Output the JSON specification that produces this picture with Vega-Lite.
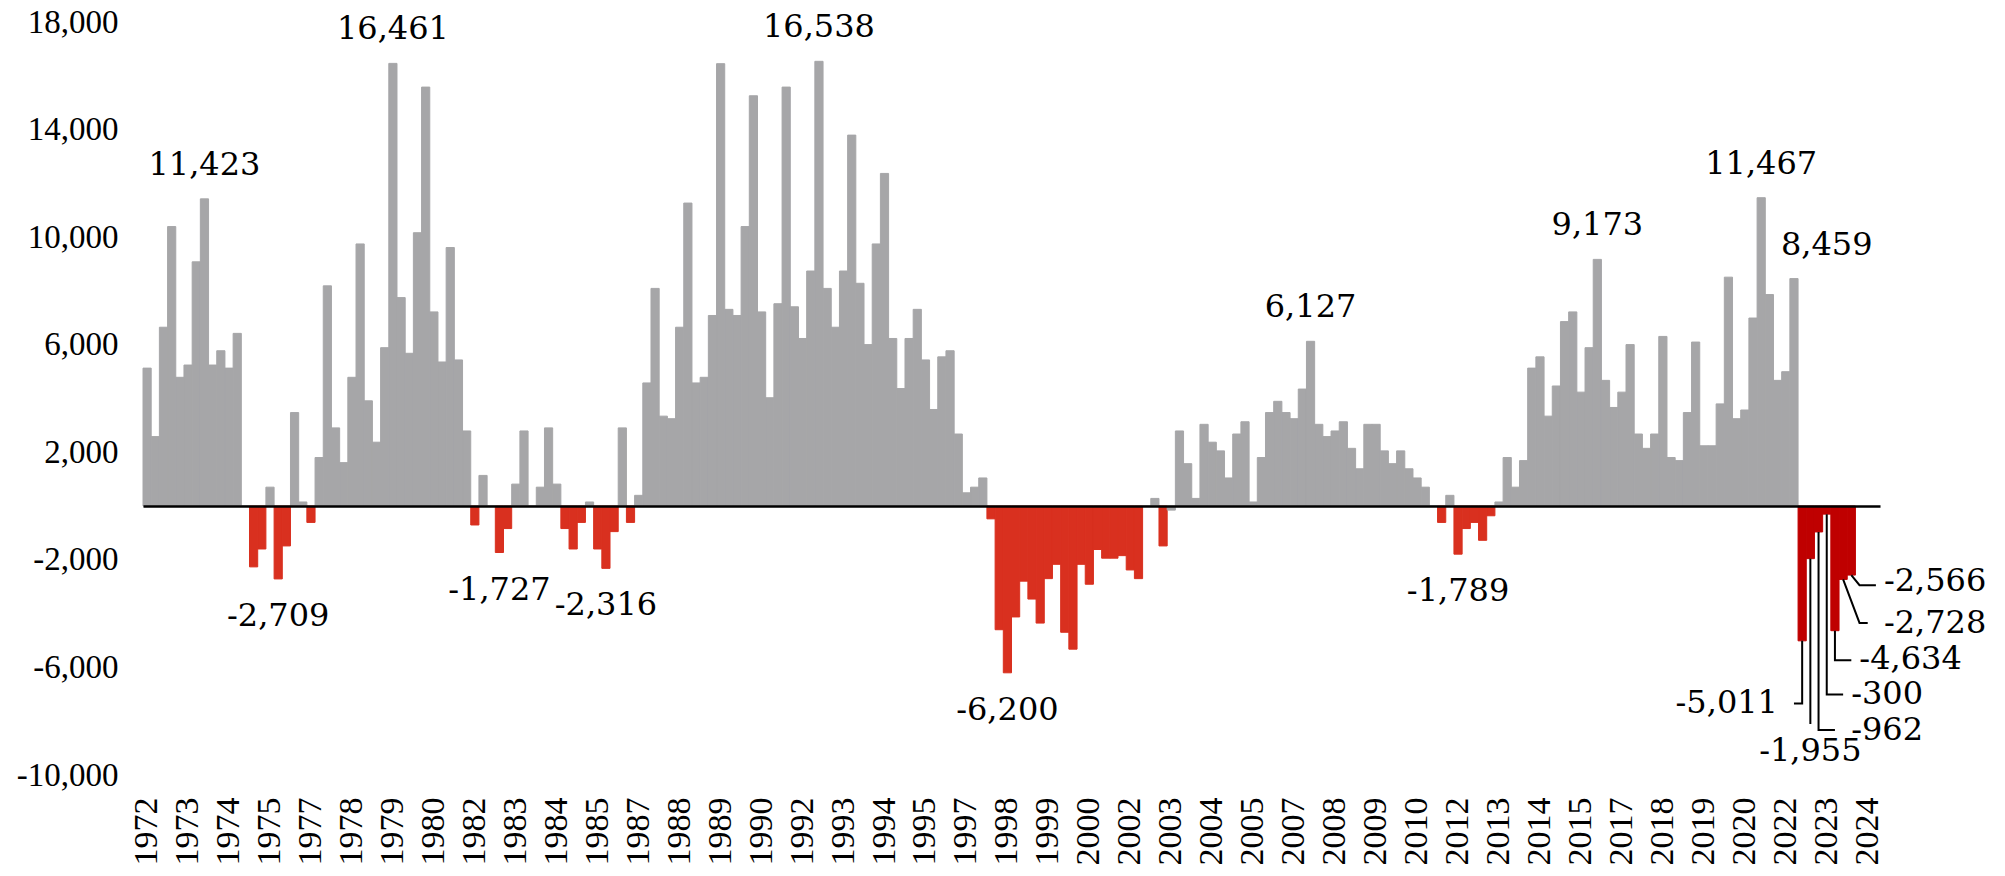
{
  "$schema": "https://vega.github.io/schema/vega-lite/v6.json",
  "autosize": {"type": "none"},
  "padding": {"left": 143, "top": 22, "right": 125, "bottom": 101},
  "width": 1737,
  "height": 753,
  "background": "#ffffff",
  "config": {"view": {"stroke": null}},
  "datasets": {
    "bars": [
      {"q":"1972Q1","v":5130},{"q":"1972Q2","v":2584},{"q":"1972Q3","v":6650},{"q":"1972Q4","v":10393},
      {"q":"1973Q1","v":4788},{"q":"1973Q2","v":5244},{"q":"1973Q3","v":9082},{"q":"1973Q4","v":11423},
      {"q":"1974Q1","v":5244},{"q":"1974Q2","v":5776},{"q":"1974Q3","v":5130},{"q":"1974Q4","v":6422},
      {"q":"1975Q1","v":0},{"q":"1975Q2","v":-2261},{"q":"1975Q3","v":-1596},{"q":"1975Q4","v":703},
      {"q":"1976Q1","v":-2709},{"q":"1976Q2","v":-1482},{"q":"1976Q3","v":3477},{"q":"1976Q4","v":152},
      {"q":"1977Q1","v":-608},{"q":"1977Q2","v":1805},{"q":"1977Q3","v":8189},{"q":"1977Q4","v":2907},
      {"q":"1978Q1","v":1615},{"q":"1978Q2","v":4788},{"q":"1978Q3","v":9747},{"q":"1978Q4","v":3914},
      {"q":"1979Q1","v":2375},{"q":"1979Q2","v":5890},{"q":"1979Q3","v":16461},{"q":"1979Q4","v":7752},
      {"q":"1980Q1","v":5681},{"q":"1980Q2","v":10165},{"q":"1980Q3","v":15580},{"q":"1980Q4","v":7220},
      {"q":"1981Q1","v":5358},{"q":"1981Q2","v":9614},{"q":"1981Q3","v":5434},{"q":"1981Q4","v":2793},
      {"q":"1982Q1","v":-703},{"q":"1982Q2","v":1140},{"q":"1982Q3","v":0},{"q":"1982Q4","v":-1727},
      {"q":"1983Q1","v":-836},{"q":"1983Q2","v":817},{"q":"1983Q3","v":2793},{"q":"1983Q4","v":0},
      {"q":"1984Q1","v":703},{"q":"1984Q2","v":2907},{"q":"1984Q3","v":817},{"q":"1984Q4","v":-836},
      {"q":"1985Q1","v":-1596},{"q":"1985Q2","v":-608},{"q":"1985Q3","v":152},{"q":"1985Q4","v":-1596},
      {"q":"1986Q1","v":-2316},{"q":"1986Q2","v":-950},{"q":"1986Q3","v":2907},{"q":"1986Q4","v":-608},
      {"q":"1987Q1","v":399},{"q":"1987Q2","v":4579},{"q":"1987Q3","v":8094},{"q":"1987Q4","v":3344},
      {"q":"1988Q1","v":3249},{"q":"1988Q2","v":6650},{"q":"1988Q3","v":11267},{"q":"1988Q4","v":4579},
      {"q":"1989Q1","v":4788},{"q":"1989Q2","v":7087},{"q":"1989Q3","v":16450},{"q":"1989Q4","v":7315},
      {"q":"1990Q1","v":7087},{"q":"1990Q2","v":10393},{"q":"1990Q3","v":15257},{"q":"1990Q4","v":7220},
      {"q":"1991Q1","v":4028},{"q":"1991Q2","v":7524},{"q":"1991Q3","v":15580},{"q":"1991Q4","v":7410},
      {"q":"1992Q1","v":6232},{"q":"1992Q2","v":8740},{"q":"1992Q3","v":16538},{"q":"1992Q4","v":8094},
      {"q":"1993Q1","v":6650},{"q":"1993Q2","v":8740},{"q":"1993Q3","v":13794},{"q":"1993Q4","v":8284},
      {"q":"1994Q1","v":6004},{"q":"1994Q2","v":9747},{"q":"1994Q3","v":12369},{"q":"1994Q4","v":6232},
      {"q":"1995Q1","v":4370},{"q":"1995Q2","v":6232},{"q":"1995Q3","v":7315},{"q":"1995Q4","v":5434},
      {"q":"1996Q1","v":3591},{"q":"1996Q2","v":5548},{"q":"1996Q3","v":5776},{"q":"1996Q4","v":2679},
      {"q":"1997Q1","v":494},{"q":"1997Q2","v":703},{"q":"1997Q3","v":1045},{"q":"1997Q4","v":-475},
      {"q":"1998Q1","v":-4598},{"q":"1998Q2","v":-6200},{"q":"1998Q3","v":-4123},{"q":"1998Q4","v":-2793},
      {"q":"1999Q1","v":-3458},{"q":"1999Q2","v":-4351},{"q":"1999Q3","v":-2698},{"q":"1999Q4","v":-2166},
      {"q":"2000Q1","v":-4693},{"q":"2000Q2","v":-5320},{"q":"2000Q3","v":-2166},{"q":"2000Q4","v":-2907},
      {"q":"2001Q1","v":-1615},{"q":"2001Q2","v":-1938},{"q":"2001Q3","v":-1938},{"q":"2001Q4","v":-1843},
      {"q":"2002Q1","v":-2375},{"q":"2002Q2","v":-2698},{"q":"2002Q3","v":0},{"q":"2002Q4","v":285},
      {"q":"2003Q1","v":-1482},{"q":"2003Q2","v":-150},{"q":"2003Q3","v":2793},{"q":"2003Q4","v":1577},
      {"q":"2004Q1","v":285},{"q":"2004Q2","v":3040},{"q":"2004Q3","v":2375},{"q":"2004Q4","v":2052},
      {"q":"2005Q1","v":1045},{"q":"2005Q2","v":2679},{"q":"2005Q3","v":3135},{"q":"2005Q4","v":152},
      {"q":"2006Q1","v":1805},{"q":"2006Q2","v":3477},{"q":"2006Q3","v":3895},{"q":"2006Q4","v":3477},
      {"q":"2007Q1","v":3249},{"q":"2007Q2","v":4351},{"q":"2007Q3","v":6127},{"q":"2007Q4","v":3040},
      {"q":"2008Q1","v":2584},{"q":"2008Q2","v":2793},{"q":"2008Q3","v":3135},{"q":"2008Q4","v":2147},
      {"q":"2009Q1","v":1387},{"q":"2009Q2","v":3040},{"q":"2009Q3","v":3040},{"q":"2009Q4","v":2052},
      {"q":"2010Q1","v":1577},{"q":"2010Q2","v":2052},{"q":"2010Q3","v":1387},{"q":"2010Q4","v":1045},
      {"q":"2011Q1","v":703},{"q":"2011Q2","v":0},{"q":"2011Q3","v":-608},{"q":"2011Q4","v":399},
      {"q":"2012Q1","v":-1789},{"q":"2012Q2","v":-836},{"q":"2012Q3","v":-608},{"q":"2012Q4","v":-1273},
      {"q":"2013Q1","v":-361},{"q":"2013Q2","v":152},{"q":"2013Q3","v":1805},{"q":"2013Q4","v":703},
      {"q":"2014Q1","v":1691},{"q":"2014Q2","v":5130},{"q":"2014Q3","v":5548},{"q":"2014Q4","v":3344},
      {"q":"2015Q1","v":4465},{"q":"2015Q2","v":6859},{"q":"2015Q3","v":7220},{"q":"2015Q4","v":4237},
      {"q":"2016Q1","v":5890},{"q":"2016Q2","v":9173},{"q":"2016Q3","v":4674},{"q":"2016Q4","v":3667},
      {"q":"2017Q1","v":4237},{"q":"2017Q2","v":6004},{"q":"2017Q3","v":2679},{"q":"2017Q4","v":2147},
      {"q":"2018Q1","v":2679},{"q":"2018Q2","v":6308},{"q":"2018Q3","v":1805},{"q":"2018Q4","v":1691},
      {"q":"2019Q1","v":3477},{"q":"2019Q2","v":6099},{"q":"2019Q3","v":2242},{"q":"2019Q4","v":2242},
      {"q":"2020Q1","v":3800},{"q":"2020Q2","v":8512},{"q":"2020Q3","v":3249},{"q":"2020Q4","v":3572},
      {"q":"2021Q1","v":6992},{"q":"2021Q2","v":11467},{"q":"2021Q3","v":7866},{"q":"2021Q4","v":4674},
      {"q":"2022Q1","v":4997},{"q":"2022Q2","v":8459},{"q":"2022Q3","v":-5011},{"q":"2022Q4","v":-1955},
      {"q":"2023Q1","v":-962},{"q":"2023Q2","v":-300},{"q":"2023Q3","v":-4634},{"q":"2023Q4","v":-2728},
      {"q":"2024Q1","v":-2566}
    ],
    "labels": [
      {"t":"11,423","q":"1973Q4","v":11423},
      {"t":"16,461","q":"1979Q3","v":16461},
      {"t":"16,538","q":"1992Q3","v":16538},
      {"t":"6,127","q":"2007Q3","v":6127},
      {"t":"9,173","q":"2016Q2","v":9173},
      {"t":"11,467","q":"2021Q2","v":11467},
      {"t":"8,459","q":"2023Q2","v":8459},
      {"t":"-2,709","q":"1976Q1","v":-2709},
      {"t":"-1,727","q":"1982Q4","v":-1727},
      {"t":"-2,316","q":"1986Q1","v":-2316},
      {"t":"-6,200","q":"1998Q2","v":-6200},
      {"t":"-1,789","q":"2012Q1","v":-1789}
    ],
    "callouts": [
      {"t":"-2,566","q":"2024Q4","v":-2780,"side":"r"},
      {"t":"-2,728","q":"2024Q4","v":-4330,"side":"r"},
      {"t":"-4,634","q":"2024Q1","v":-5700,"side":"r"},
      {"t":"-300","q":"2023Q4","v":-6990,"side":"r"},
      {"t":"-962","q":"2023Q4","v":-8310,"side":"r"},
      {"t":"-1,955","q":"2022Q4","v":-9090,"side":"c"},
      {"t":"-5,011","q":"2022Q2","v":-7320,"side":"l"}
    ],
    "leaders": [
      {"id":"a","o":1,"q":"2024Q1","v":-2566},{"id":"a","o":2,"q":"2024Q2","v":-2940},{"id":"a","o":3,"q":"2024Q4","v":-2940},
      {"id":"b","o":1,"q":"2023Q4","v":-2728},{"id":"b","o":2,"q":"2024Q2","v":-4347},{"id":"b","o":3,"q":"2024Q3","v":-4347},
      {"id":"c","o":1,"q":"2023Q3","v":-4634},{"id":"c","o":2,"q":"2023Q3","v":-5731},{"id":"c","o":3,"q":"2024Q1","v":-5731},
      {"id":"d","o":1,"q":"2023Q2","v":-300},{"id":"d","o":2,"q":"2023Q2","v":-7003},{"id":"d","o":3,"q":"2023Q4","v":-7003},
      {"id":"e","o":1,"q":"2023Q1","v":-962},{"id":"e","o":2,"q":"2023Q1","v":-8330},{"id":"e","o":3,"q":"2023Q3","v":-8330},
      {"id":"f","o":1,"q":"2022Q4","v":-1955},{"id":"f","o":2,"q":"2022Q4","v":-8103},
      {"id":"g","o":1,"q":"2022Q3","v":-5011},{"id":"g","o":2,"q":"2022Q3","v":-7342},{"id":"g","o":3,"q":"2022Q2","v":-7342}
    ]
  },
  "encoding": {
    "x": {
      "field": "q",
      "type": "ordinal",
      "scale": {
        "paddingInner": 0,
        "paddingOuter": 0,
        "domain": ["1972Q1","1972Q2","1972Q3","1972Q4","1973Q1","1973Q2","1973Q3","1973Q4","1974Q1","1974Q2","1974Q3","1974Q4","1975Q1","1975Q2","1975Q3","1975Q4","1976Q1","1976Q2","1976Q3","1976Q4","1977Q1","1977Q2","1977Q3","1977Q4","1978Q1","1978Q2","1978Q3","1978Q4","1979Q1","1979Q2","1979Q3","1979Q4","1980Q1","1980Q2","1980Q3","1980Q4","1981Q1","1981Q2","1981Q3","1981Q4","1982Q1","1982Q2","1982Q3","1982Q4","1983Q1","1983Q2","1983Q3","1983Q4","1984Q1","1984Q2","1984Q3","1984Q4","1985Q1","1985Q2","1985Q3","1985Q4","1986Q1","1986Q2","1986Q3","1986Q4","1987Q1","1987Q2","1987Q3","1987Q4","1988Q1","1988Q2","1988Q3","1988Q4","1989Q1","1989Q2","1989Q3","1989Q4","1990Q1","1990Q2","1990Q3","1990Q4","1991Q1","1991Q2","1991Q3","1991Q4","1992Q1","1992Q2","1992Q3","1992Q4","1993Q1","1993Q2","1993Q3","1993Q4","1994Q1","1994Q2","1994Q3","1994Q4","1995Q1","1995Q2","1995Q3","1995Q4","1996Q1","1996Q2","1996Q3","1996Q4","1997Q1","1997Q2","1997Q3","1997Q4","1998Q1","1998Q2","1998Q3","1998Q4","1999Q1","1999Q2","1999Q3","1999Q4","2000Q1","2000Q2","2000Q3","2000Q4","2001Q1","2001Q2","2001Q3","2001Q4","2002Q1","2002Q2","2002Q3","2002Q4","2003Q1","2003Q2","2003Q3","2003Q4","2004Q1","2004Q2","2004Q3","2004Q4","2005Q1","2005Q2","2005Q3","2005Q4","2006Q1","2006Q2","2006Q3","2006Q4","2007Q1","2007Q2","2007Q3","2007Q4","2008Q1","2008Q2","2008Q3","2008Q4","2009Q1","2009Q2","2009Q3","2009Q4","2010Q1","2010Q2","2010Q3","2010Q4","2011Q1","2011Q2","2011Q3","2011Q4","2012Q1","2012Q2","2012Q3","2012Q4","2013Q1","2013Q2","2013Q3","2013Q4","2014Q1","2014Q2","2014Q3","2014Q4","2015Q1","2015Q2","2015Q3","2015Q4","2016Q1","2016Q2","2016Q3","2016Q4","2017Q1","2017Q2","2017Q3","2017Q4","2018Q1","2018Q2","2018Q3","2018Q4","2019Q1","2019Q2","2019Q3","2019Q4","2020Q1","2020Q2","2020Q3","2020Q4","2021Q1","2021Q2","2021Q3","2021Q4","2022Q1","2022Q2","2022Q3","2022Q4","2023Q1","2023Q2","2023Q3","2023Q4","2024Q1","2024Q2","2024Q3","2024Q4"]
      },
      "axis": {
        "title": null,
        "values": ["1972Q1","1973Q2","1974Q3","1975Q4","1977Q1","1978Q2","1979Q3","1980Q4","1982Q1","1983Q2","1984Q3","1985Q4","1987Q1","1988Q2","1989Q3","1990Q4","1992Q1","1993Q2","1994Q3","1995Q4","1997Q1","1998Q2","1999Q3","2000Q4","2002Q1","2003Q2","2004Q3","2005Q4","2007Q1","2008Q2","2009Q3","2010Q4","2012Q1","2013Q2","2014Q3","2015Q4","2017Q1","2018Q2","2019Q3","2020Q4","2022Q1","2023Q2","2024Q3"],
        "labelExpr": "substring(datum.value, 0, 4)",
        "labelAngle": -90,
        "labelFont": "Liberation Serif",
        "labelFontSize": 34,
        "labelColor": "#000000",
        "labelPadding": 22,
        "labelOverlap": false,
        "ticks": false,
        "domain": false,
        "grid": false
      }
    },
    "y": {
      "field": "v",
      "type": "quantitative",
      "scale": {"domain": [-10000, 18000], "nice": false, "zero": false},
      "axis": {
        "title": null,
        "values": [-10000, -6000, -2000, 0, 2000, 6000, 10000, 14000, 18000],
        "labelExpr": "datum.value === 0 ? '' : replace(format(datum.value, ','), '\u2212', '-')",
        "labelFont": "Liberation Serif",
        "labelFontSize": 33,
        "labelColor": "#000000",
        "labelPadding": 25,
        "ticks": false,
        "domain": false,
        "grid": true,
        "gridColor": "#000000",
        "gridWidth": 2.5,
        "gridOpacity": {"condition": {"test": "datum.value === 0", "value": 1}, "value": 0},
        "zindex": 1
      }
    }
  },
  "layer": [
    {
      "data": {"name": "bars"},
      "mark": {"type": "bar", "strokeWidth": 1},
      "encoding": {
        "color": {
          "condition": [
            {"test": "datum.v < 0 && datum.q >= '2022Q3'", "value": "#bf0000"},
            {"test": "datum.v < -200", "value": "#d9301f"}
          ],
          "value": "#a6a6a8"
        },
        "stroke": {
          "condition": [
            {"test": "datum.v < 0 && datum.q >= '2022Q3'", "value": "#bf0000"},
            {"test": "datum.v < -200", "value": "#d9301f"}
          ],
          "value": "#a6a6a8"
        }
      }
    },
    {
      "data": {"name": "leaders"},
      "mark": {"type": "line", "color": "#000000", "strokeWidth": 2},
      "encoding": {
        "detail": {"field": "id"},
        "order": {"field": "o", "type": "quantitative"}
      }
    },
    {
      "data": {"name": "labels"},
      "transform": [{"filter": "datum.v > 0"}],
      "mark": {"type": "text", "font": "DejaVu Serif", "fontSize": 32, "color": "#000000", "align": "center", "baseline": "alphabetic", "dy": -24},
      "encoding": {"text": {"field": "t"}}
    },
    {
      "data": {"name": "labels"},
      "transform": [{"filter": "datum.v < 0"}],
      "mark": {"type": "text", "font": "DejaVu Serif", "fontSize": 32, "color": "#000000", "align": "center", "baseline": "alphabetic", "dy": 47},
      "encoding": {"text": {"field": "t"}}
    },
    {
      "data": {"name": "callouts"},
      "transform": [{"filter": "datum.side === 'r'"}],
      "mark": {"type": "text", "font": "DejaVu Serif", "fontSize": 32, "color": "#000000", "align": "left", "baseline": "middle", "dx": 8},
      "encoding": {"text": {"field": "t"}}
    },
    {
      "data": {"name": "callouts"},
      "transform": [{"filter": "datum.side === 'c'"}],
      "mark": {"type": "text", "font": "DejaVu Serif", "fontSize": 32, "color": "#000000", "align": "center", "baseline": "middle"},
      "encoding": {"text": {"field": "t"}}
    },
    {
      "data": {"name": "callouts"},
      "transform": [{"filter": "datum.side === 'l'"}],
      "mark": {"type": "text", "font": "DejaVu Serif", "fontSize": 32, "color": "#000000", "align": "right", "baseline": "middle", "dx": -16},
      "encoding": {"text": {"field": "t"}}
    }
  ]
}
